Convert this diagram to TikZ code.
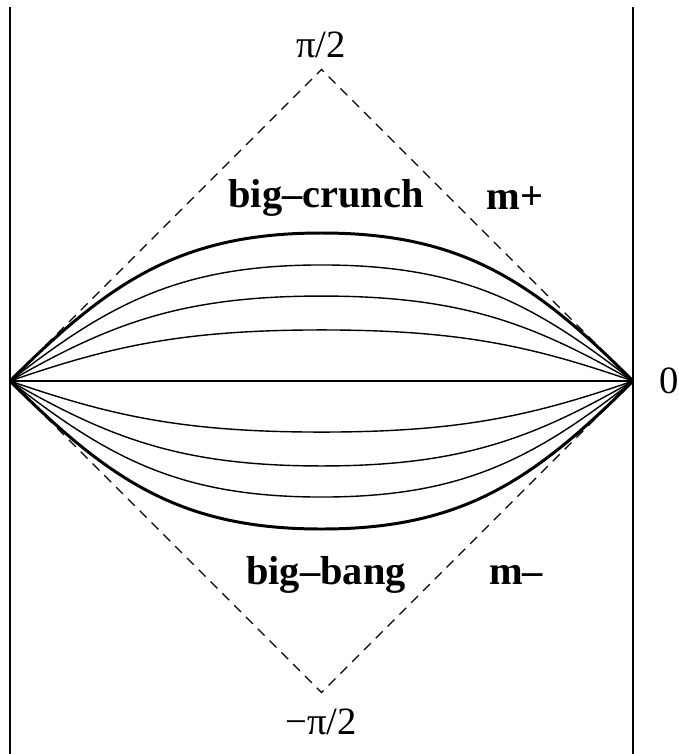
\documentclass[tikz,border=0pt]{standalone}
\usepackage{fontspec}
\setmainfont{Liberation Serif}
\usetikzlibrary{positioning}

\begin{document}
\begin{tikzpicture}[x=0.02cm,y=-0.02cm,
  lbl/.style={font=\fontsize{23}{27}\selectfont\bfseries},
  ax/.style={font=\fontsize{22}{26}\selectfont},
  slice/.style={line width=0.8pt},
  bound/.style={line width=1.7pt}]
 \useasboundingbox (0,0) rectangle (679,754);
 \coordinate (iL) at (10,381);
 \coordinate (iR) at (633,381);
 \coordinate (top) at (321.5,69.5);
 \coordinate (bot) at (321.5,692.5);
 % walls
 \draw[line width=0.8pt] (10,7) -- (10,754);
 \draw[line width=0.8pt] (633,7) -- (633,754);
 % diamond
 \draw[dash pattern=on 5.5pt off 4pt,line width=0.7pt] (iL) -- (top) -- (iR) -- (bot) -- cycle;
 \draw[line width=1pt] (iL) -- (iR);
 % slices
 \foreach \f in {0.345,0.574,0.784,-0.345,-0.574,-0.784}
  \draw[slice] (iL) .. controls +(100,-100*\f) and +(-140,0) .. (321.5,{381-148*\f})
   .. controls +(140,0) and +(-100,-100*\f) .. (iR);
 \foreach \f in {1,-1}
  \draw[bound] (iL) .. controls +(100,-100*\f) and +(-140,0) .. (321.5,{381-148*\f})
   .. controls +(140,0) and +(-100,-100*\f) .. (iR);
 % labels
 \node[ax] (pitop) at (321,45) {π/2};
 \node[ax] (pibot) at (321,722) {−π/2};
 \node[ax] (zero) at (669,381) {0};
 \node[lbl] (crunch) at (326,198) {big--crunch};
 \node[lbl] (mplus) at (515,198) {m+};
 \node[lbl] (bang) at (326,575) {big--bang};
 \node[lbl] (mminus) at (516,575) {m--};
\end{tikzpicture}
\end{document}
